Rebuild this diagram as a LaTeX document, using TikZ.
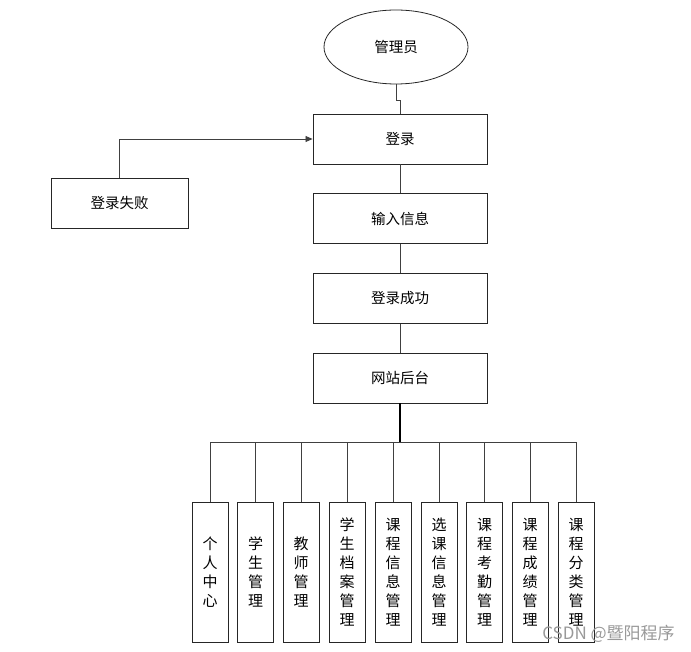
\documentclass[tikz,border=0pt]{standalone}
\usepackage{fontspec}
\setmainfont{Noto Sans CJK SC}
\usetikzlibrary{shapes.geometric,arrows.meta}
\begin{document}
\begin{tikzpicture}[x=1pt,y=-1pt,
  box/.style={draw=black!85,line width=0.9pt,minimum width=174pt,minimum height=50pt,inner sep=0pt,font=\fontsize{14.5}{16}\selectfont},
  sub/.style={draw=black!85,line width=0.9pt,minimum width=36pt,minimum height=140pt,inner sep=0pt,align=center,font=\fontsize{15}{19}\selectfont},
  conn/.style={draw=black!75,line width=0.8pt}]
\useasboundingbox (0,0) rectangle (691,652);
\node[ellipse,draw=black!85,line width=0.8pt,minimum width=144pt,minimum height=74pt,inner sep=0pt,font=\fontsize{14.5}{16}\selectfont] (admin) at (396,47) {管理员};
\node[box] (login) at (400,139) {登录};
\node[box] (input) at (400,218.5) {输入信息};
\node[box] (success) at (400,298.5) {登录成功};
\node[box] (backend) at (400,378) {网站后台};
\node[box,minimum width=137pt] (fail) at (119.5,203) {登录失败};
\draw[conn] (admin.south) -- ++(0,16) -| (login.north);
\draw[conn] (login.south) -- (input.north);
\draw[conn] (input.south) -- (success.north);
\draw[conn] (success.south) -- (backend.north);
\draw[conn,-{Triangle[length=7pt,width=6pt]}] (fail.north) |- (login.west);
\coordinate (bus) at (400,442);
\node[sub] (s1) at (210,572) {个\\人\\中\\心};
\node[sub] (s2) at (255.5,572) {学\\生\\管\\理};
\node[sub] (s3) at (301,572) {教\\师\\管\\理};
\node[sub] (s4) at (347,572) {学\\生\\档\\案\\管\\理};
\node[sub] (s5) at (393,572) {课\\程\\信\\息\\管\\理};
\node[sub] (s6) at (439,572) {选\\课\\信\\息\\管\\理};
\node[sub] (s7) at (484.5,572) {课\\程\\考\\勤\\管\\理};
\node[sub] (s8) at (530,572) {课\\程\\成\\绩\\管\\理};
\node[sub] (s9) at (576,572) {课\\程\\分\\类\\管\\理};
\draw[black,line width=2pt] (backend.south) -- (bus);
\foreach \i in {1,...,9} {\draw[conn] (bus) -| (s\i.north);}
\node[text=black!40,font=\fontsize{17}{19}\selectfont,inner sep=0pt] (wm) at (608.5,634) {CSDN @暨阳程序};
\end{tikzpicture}
\end{document}
